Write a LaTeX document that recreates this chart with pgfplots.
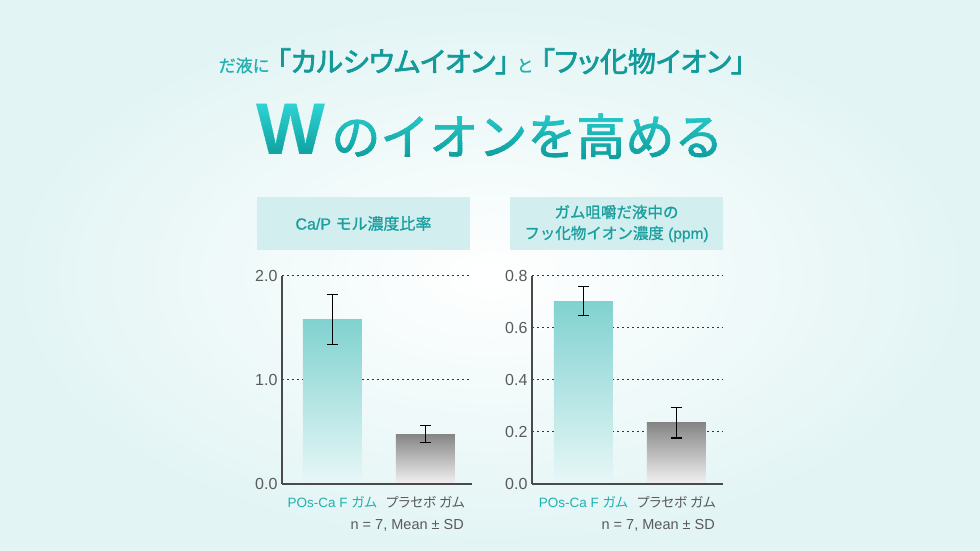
\documentclass[border=0pt]{standalone}
\usepackage{pgfplots}
\pgfplotsset{compat=1.18}
\usepackage{fontspec}
\setmainfont{Noto Sans CJK JP}
\newfontfamily\jpm{Noto Sans CJK JP}[FakeBold=1]
\newfontfamily\jpp{Noto Sans CJK JP}[RawFeature=+palt]
\newfontfamily\jpmm{Noto Sans CJK JP}[FakeBold=1.6]
\newfontfamily\jpbp{Noto Sans CJK JP}[FakeBold=2.5, RawFeature=+palt]
\newfontfamily\lat{Liberation Sans}
\newfontfamily\latb{Liberation Sans}[FakeBold=1]
\definecolor{bgc}{HTML}{E2F4F4}
\definecolor{boxc}{HTML}{D3EEEE}
\definecolor{tealtxt}{HTML}{1A9E9E}
\definecolor{tealdark}{HTML}{139A9A}
\definecolor{labteal}{HTML}{22B0B0}
\definecolor{tealtop}{HTML}{80D2D0}
\definecolor{tealbot}{HTML}{E8F7F7}
\definecolor{graytop}{HTML}{858585}
\definecolor{graybot}{HTML}{F2F2F2}
\definecolor{axc}{HTML}{4A4A4A}
\definecolor{gridc}{HTML}{333333}
\definecolor{tickc}{HTML}{5A5A5A}
\definecolor{wtop}{HTML}{30D8D8}
\definecolor{wbot}{HTML}{0E9C9C}

\newcommand{\titletwo}{{\fontsize{73}{73}\selectfont\lat\bfseries W}\hspace{6pt}{\fontsize{49}{49}\selectfont\jpmm のイオンを高める}}

\pgfplotsset{mybars/.style={
  scale only axis, height=208pt, ymin=0,
  axis x line*=bottom, axis y line*=left,
  axis line style={draw=axc, line width=1.4pt, -},
  ymajorgrids, grid style={draw=gridc, line width=1pt, dash pattern=on 1.5pt off 3.5pt},
  major tick length=0pt,
  xtick={0,1},
  /pgf/number format/assume math mode=true,
  yticklabel style={font=\fontsize{16}{16}\selectfont\lat, text=tickc, xshift=-1pt,
     /pgf/number format/fixed, /pgf/number format/fixed zerofill, /pgf/number format/precision=1},
  xticklabel style={font=\fontsize{13.5}{13.5}\selectfont\jpp, text=tickc, yshift=-9pt},
  xticklabels={{\textcolor{labteal}{{\lat POs-Ca F }ガム}}, {プラセボ ガム}},
}}

\begin{document}
\begin{tikzpicture}[x=1pt,y=1pt]
\shade[inner color=white, outer color=bgc] (0,0) rectangle (980,551);
\path[use as bounding box] (0,0) rectangle (980,551);

% title line 1
\node[anchor=base, inner sep=0pt] at (482,479) {%
  {\fontsize{17}{17}\selectfont\jpm\color{labteal}だ液に}\hspace{7pt}%
  {\fontsize{28}{28}\selectfont\jpbp\color{tealdark}「カルシウムイオン」}\hspace{7pt}%
  {\fontsize{17}{17}\selectfont\jpm\color{labteal}と}\hspace{7pt}%
  {\fontsize{28}{28}\selectfont\jpbp\color{tealdark}「フッ化物イオン」}};

% title line 2, vertical gradient drawn in thin clipped slices
\foreach \i in {0,...,33}{
  \pgfmathsetmacro\ya{380+2.5*\i}
  \pgfmathtruncatemacro\p{min(100,max(0,(\ya+1.25-392)/60*100))}
  \begin{scope}
    \clip (200,\ya) rectangle (780,\ya+2.6);
    \node[text=wtop!\p!wbot, anchor=base, inner sep=0pt] at (490,396) {\titletwo};
  \end{scope}
}

% boxes
\fill[boxc] (257,301) rectangle (470,354);
\node[text=tealtxt, font=\fontsize{16}{16}\selectfont\jpm] at (363.5,327.5) {{\latb Ca/P }モル濃度比率};
\fill[boxc] (510,301) rectangle (723,354);
\node[text=tealtxt, font=\fontsize{15.5}{21}\selectfont\jpm, align=center] at (616.5,327.5)
  {ガム咀嚼だ液中の\\フッ化物イオン濃度{\latb\ (ppm)}};

% left chart
\begin{axis}[mybars, at={(282pt,67pt)}, anchor=south west, width=190pt,
  xmin=-0.54, xmax=1.50, ymax=2, ytick={0,1,2}]
\addplot[ybar, bar width=59pt, draw=none, top color=tealtop, bottom color=tealbot,
  error bars/.cd, y dir=both, y explicit,
  error bar style={black, line width=1.3pt},
  error mark options={black, line width=1.3pt, mark size=5.5pt, rotate=90}]
  coordinates {(0,1.58) +- (0,0.24)};
\addplot[ybar, bar width=59pt, draw=none, top color=graytop, bottom color=graybot,
  error bars/.cd, y dir=both, y explicit,
  error bar style={black, line width=1.3pt},
  error mark options={black, line width=1.3pt, mark size=5.5pt, rotate=90}]
  coordinates {(1,0.48) +- (0,0.08)};
\draw[axc, line width=1.4pt] (rel axis cs:0,0) -- (rel axis cs:1,0);
\end{axis}
\node[anchor=east, text=tickc, font=\fontsize{14.5}{14.5}\selectfont\lat, inner sep=0pt] at (464,26) {n = 7, Mean ± SD};

% right chart
\begin{axis}[mybars, at={(532pt,67pt)}, anchor=south west, width=191pt,
  xmin=-0.553, xmax=1.50, ymax=0.8, ytick={0,0.2,0.4,0.6,0.8}]
\addplot[ybar, bar width=59pt, draw=none, top color=tealtop, bottom color=tealbot,
  error bars/.cd, y dir=both, y explicit,
  error bar style={black, line width=1.3pt},
  error mark options={black, line width=1.3pt, mark size=5.5pt, rotate=90}]
  coordinates {(0,0.703) +- (0,0.056)};
\addplot[ybar, bar width=59pt, draw=none, top color=graytop, bottom color=graybot,
  error bars/.cd, y dir=both, y explicit,
  error bar style={black, line width=1.3pt},
  error mark options={black, line width=1.3pt, mark size=5.5pt, rotate=90}]
  coordinates {(1,0.235) +- (0,0.058)};
\draw[axc, line width=1.4pt] (rel axis cs:0,0) -- (rel axis cs:1,0);
\end{axis}
\node[anchor=east, text=tickc, font=\fontsize{14.5}{14.5}\selectfont\lat, inner sep=0pt] at (715,26) {n = 7, Mean ± SD};
\end{tikzpicture}
\end{document}
